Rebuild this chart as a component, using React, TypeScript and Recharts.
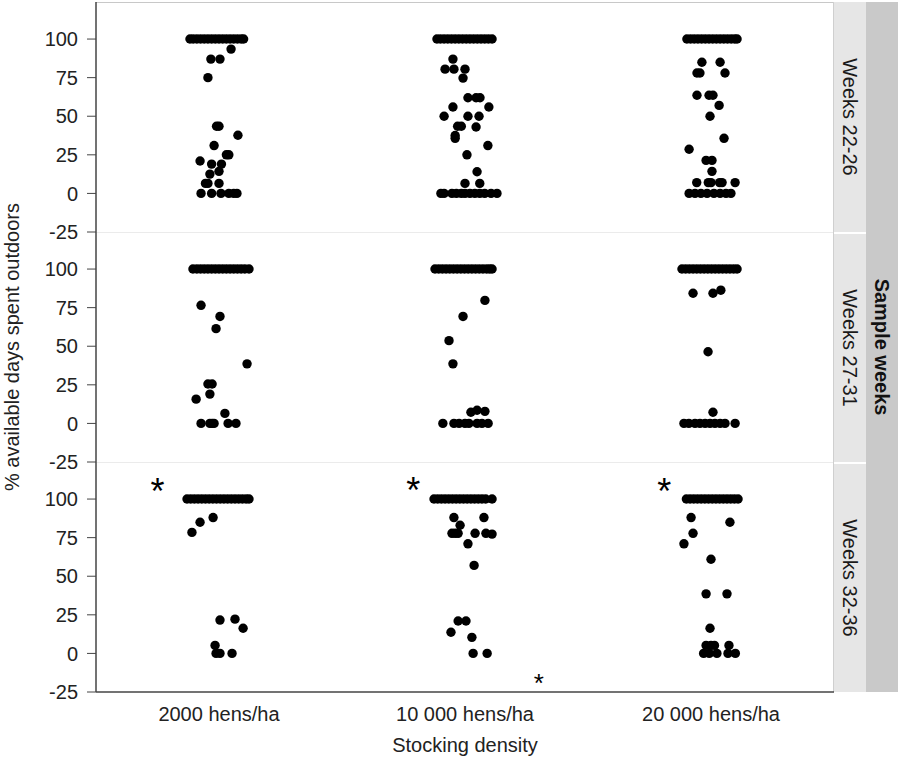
import * as React from "react"
import { Scatter, ScatterChart, XAxis, YAxis } from "recharts"

// [jitter from category centre, % of days outdoors]
const densityLabels = ["2000 hens/ha", "10 000 hens/ha", "20 000 hens/ha"]
const weekLabels = ["Weeks 22-26", "Weeks 27-31", "Weeks 32-36"]
const yTicks = [-25, 0, 25, 50, 75, 100]

const w22_d2000: [number, number][] = [
  [-0.118, 100], [-0.105, 100], [-0.09, 100], [-0.075, 100], [-0.06, 100], [-0.045, 100], [-0.03, 100], [-0.015, 100],
  [0, 100], [0.015, 100], [0.03, 100], [0.045, 100], [0.06, 100], [0.075, 100], [0.09, 100], [0.1, 100],
  [0.049, 93.5], [-0.033, 87], [0.004, 87], [-0.045, 75], [-0.01, 43.5], [0.0, 43.5], [0.077, 37.7], [-0.02, 31],
  [0.03, 25], [0.04, 25], [-0.077, 21], [-0.03, 19], [0.01, 19], [-0.037, 12.5], [0.0, 14.3],
  [-0.055, 6.5], [-0.045, 6.5], [0.0, 6.5],
  [-0.073, 0], [-0.03, 0], [0.008, 0], [0.04, 0], [0.06, 0], [0.073, 0],
]
const w22_d10000: [number, number][] = [
  [-0.114, 100], [-0.1, 100], [-0.085, 100], [-0.07, 100], [-0.055, 100], [-0.04, 100], [-0.025, 100], [-0.01, 100],
  [0.005, 100], [0.02, 100], [0.035, 100], [0.05, 100], [0.065, 100], [0.08, 100], [0.095, 100], [0.11, 100],
  [-0.049, 87], [-0.081, 80.5], [-0.045, 80.5], [0.0, 80.5], [-0.008, 74.7], [0.012, 62], [0.045, 62], [0.061, 62],
  [-0.049, 56], [0.097, 56], [-0.085, 50], [0.012, 50], [0.057, 50], [-0.03, 43.5], [-0.015, 43.5], [0.045, 43],
  [-0.04, 37.5], [-0.04, 35.7], [0.093, 31], [0.008, 25], [0.049, 14], [0.0, 6.5], [0.06, 6.5],
  [-0.098, 0], [-0.085, 0], [-0.053, 0], [-0.035, 0], [-0.015, 0], [0.0, 0], [0.02, 0], [0.04, 0], [0.06, 0],
  [0.08, 0], [0.106, 0], [0.13, 0],
]
const w22_d20000: [number, number][] = [
  [-0.098, 100], [-0.083, 100], [-0.068, 100], [-0.053, 100], [-0.038, 100], [-0.023, 100], [-0.008, 100], [0.007, 100],
  [0.022, 100], [0.037, 100], [0.052, 100], [0.067, 100], [0.082, 100], [0.096, 100], [0.106, 100],
  [-0.037, 85], [0.037, 85], [-0.057, 78], [-0.045, 78], [0.057, 78], [-0.057, 63.6], [-0.008, 63.6], [0.008, 63.6],
  [0.033, 57], [-0.004, 50], [0.053, 35.7], [-0.089, 28.6], [-0.02, 21.4], [0.004, 21.4], [0.004, 14.3],
  [-0.058, 7], [-0.011, 7], [0.0, 7], [0.035, 7], [0.045, 7], [0.098, 7],
  [-0.089, 0], [-0.065, 0], [-0.041, 0], [-0.016, 0], [0.012, 0], [0.037, 0], [0.061, 0], [0.081, 0],
]

const w27_d2000: [number, number][] = [
  [-0.106, 100], [-0.09, 100], [-0.075, 100], [-0.06, 100], [-0.045, 100], [-0.03, 100], [-0.015, 100], [0, 100],
  [0.015, 100], [0.03, 100], [0.045, 100], [0.06, 100], [0.075, 100], [0.09, 100], [0.105, 100], [0.122, 100],
  [-0.073, 76.5], [0.004, 69.3], [-0.012, 61.4], [0.114, 38.6], [-0.045, 25.5], [-0.028, 25.5], [-0.037, 19],
  [-0.093, 15.7], [0.024, 6.5],
  [-0.073, 0], [-0.037, 0], [-0.028, 0], [-0.02, 0], [0.037, 0], [0.069, 0],
]
const w27_d10000: [number, number][] = [
  [-0.122, 100], [-0.107, 100], [-0.092, 100], [-0.077, 100], [-0.062, 100], [-0.047, 100], [-0.032, 100], [-0.017, 100],
  [-0.002, 100], [0.013, 100], [0.028, 100], [0.043, 100], [0.058, 100], [0.073, 100], [0.088, 100], [0.1, 100], [0.11, 100],
  [0.081, 79.7], [-0.008, 69.3], [-0.065, 53.6], [-0.049, 38.6], [0.024, 7.2], [0.049, 8.5], [0.081, 7.8],
  [-0.09, 0], [-0.045, 0], [-0.024, 0], [0.0, 0], [0.016, 0], [0.049, 0], [0.069, 0], [0.094, 0],
]
const w27_d20000: [number, number][] = [
  [-0.118, 100], [-0.103, 100], [-0.088, 100], [-0.073, 100], [-0.058, 100], [-0.043, 100], [-0.028, 100], [-0.013, 100],
  [0.002, 100], [0.017, 100], [0.032, 100], [0.047, 100], [0.062, 100], [0.077, 100], [0.092, 100], [0.106, 100],
  [-0.073, 84.3], [0.008, 84.3], [0.04, 86.3], [-0.012, 46.4], [0.008, 7.2],
  [-0.11, 0], [-0.09, 0], [-0.065, 0], [-0.045, 0], [-0.024, 0], [-0.004, 0], [0.016, 0], [0.037, 0], [0.057, 0], [0.098, 0],
]

const w32_d2000: [number, number][] = [
  [-0.13, 100], [-0.115, 100], [-0.1, 100], [-0.085, 100], [-0.07, 100], [-0.055, 100], [-0.04, 100], [-0.025, 100],
  [-0.01, 100], [0.005, 100], [0.02, 100], [0.035, 100], [0.05, 100], [0.065, 100], [0.08, 100], [0.095, 100],
  [0.11, 100], [0.122, 100],
  [-0.024, 88], [-0.077, 85], [-0.11, 78.4], [0.004, 21.6], [0.065, 22.2], [0.098, 16.3], [-0.016, 5.2],
  [-0.012, 0], [0.004, 0], [0.053, 0],
]
const w32_d10000: [number, number][] = [
  [-0.126, 100], [-0.111, 100], [-0.096, 100], [-0.081, 100], [-0.066, 100], [-0.051, 100], [-0.036, 100], [-0.021, 100],
  [-0.006, 100], [0.009, 100], [0.024, 100], [0.039, 100], [0.054, 100], [0.069, 100], [0.084, 100], [0.11, 100],
  [-0.045, 88], [0.077, 88], [-0.02, 83], [-0.053, 77.8], [-0.04, 77.8], [-0.028, 77.8], [0.041, 77.8], [0.085, 77.8],
  [0.11, 77.3], [0.012, 71], [0.037, 57], [-0.028, 21], [0.004, 21], [-0.057, 13.7], [0.028, 10.4],
  [0.033, 0], [0.09, 0],
]
const w32_d20000: [number, number][] = [
  [-0.1, 100], [-0.085, 100], [-0.07, 100], [-0.055, 100], [-0.04, 100], [-0.025, 100], [-0.01, 100], [0.005, 100],
  [0.02, 100], [0.035, 100], [0.05, 100], [0.065, 100], [0.08, 100], [0.095, 100], [0.11, 100],
  [-0.081, 88], [0.077, 85], [-0.073, 77.8], [-0.11, 71], [0.0, 61], [-0.02, 38.6], [0.065, 38.6], [-0.004, 16.3],
  [-0.02, 5.2], [0.0, 5.2], [0.014, 5.2], [0.073, 5.2],
  [-0.03, 0], [-0.007, 0], [0.024, 0], [0.069, 0], [0.099, 0],
]

// significance marks in the last panel
const bigStarX = [0.75, 1.79, 2.81]
const bigStarY = [110.5, 111, 110.5]
const smallStarX = [2.3]
const smallStarY = [-15]

const panels = [
  [w22_d2000, w22_d10000, w22_d20000],
  [w27_d2000, w27_d10000, w27_d20000],
  [w32_d2000, w32_d10000, w32_d20000],
]

const FONT = "'Liberation Sans', Arial, sans-serif"
const PLOT_LEFT = 96
const PLOT_RIGHT = 834
const PANEL_H = 230
const PANEL_TOPS = [2, 232, 462]

const toPoints = (pairs: [number, number][], cat: number) =>
  pairs.map(([j, v]) => ({ x: cat + j, y: v }))

const dot = (p: any) => <circle cx={p.cx} cy={p.cy} r={4.7} fill="#000" />

const star = (size: number) => (p: any) => (
  <text x={p.cx} y={p.cy} dy={size * 0.58} textAnchor="middle" fontSize={size} fontFamily={FONT} fill="#000">
    *
  </text>
)

function Panel({ index }: { index: number }) {
  const showX = index === 2
  const data = panels[index].flatMap((g, i) => toPoints(g, i + 1))
  const big = bigStarX.map((x, i) => ({ x, y: bigStarY[i] }))
  const small = smallStarX.map((x, i) => ({ x, y: smallStarY[i] }))
  return (
    <div style={{ position: "absolute", left: 0, top: PANEL_TOPS[index] }}>
      <ScatterChart
        width={PLOT_RIGHT}
        height={showX ? PANEL_H + 50 : PANEL_H + 14}
        margin={{ top: 0, right: 0, bottom: showX ? 0 : 14, left: 0 }}
      >
        <XAxis
          type="number"
          dataKey="x"
          domain={[0.5, 3.5]}
          ticks={[1, 2, 3]}
          interval={0}
          hide={!showX}
          height={50}
          tickFormatter={(v: number) => densityLabels[v - 1]}
          axisLine={{ stroke: "#444", strokeWidth: 1.5 }}
          tickLine={false}
          tickSize={0}
          tickMargin={15}
          tick={{ fontSize: 20, fill: "#222", fontFamily: FONT }}
        />
        <YAxis
          type="number"
          dataKey="y"
          domain={[-25, 124]}
          ticks={yTicks}
          interval={0}
          width={PLOT_LEFT}
          allowDataOverflow
          axisLine={{ stroke: "#444", strokeWidth: 1.5 }}
          tickLine={{ stroke: "#444" }}
          tickSize={9}
          tickMargin={9}
          tick={{ fontSize: 20, fill: "#222", fontFamily: FONT }}
        />
        <Scatter data={data} shape={dot} isAnimationActive={false} />
        {showX && <Scatter data={big} shape={star(36)} isAnimationActive={false} />}
        {showX && <Scatter data={small} shape={star(26)} isAnimationActive={false} />}
      </ScatterChart>
    </div>
  )
}

export default function App() {
  const bottom = PANEL_TOPS[2] + PANEL_H
  return (
    <div style={{ position: "absolute", left: 0, top: 0, width: 900, height: 759, background: "#fff", fontFamily: FONT }}>
      {/* light panel frame lines */}
      {PANEL_TOPS.map((t, i) => (
        <div
          key={t}
          style={{
            position: "absolute",
            left: PLOT_LEFT,
            top: t,
            width: PLOT_RIGHT - PLOT_LEFT,
            height: 1,
            background: i === 0 ? "#c8c8c8" : "#ebebeb",
          }}
        />
      ))}
      <div style={{ position: "absolute", left: PLOT_RIGHT - 1, top: PANEL_TOPS[0], width: 1, height: bottom - PANEL_TOPS[0], background: "#cfcfcf" }} />

      {[0, 1, 2].map((i) => (
        <Panel key={i} index={i} />
      ))}

      {/* facet strips */}
      {weekLabels.map((w, i) => (
        <div
          key={w}
          style={{
            position: "absolute",
            left: PLOT_RIGHT,
            top: PANEL_TOPS[i] + (i > 0 ? 2 : 0),
            width: 32,
            height: PANEL_H - (i > 0 ? 2 : 0),
            background: "#e6e6e6",
          }}
        >
          <div
            style={{
              position: "absolute",
              left: 16 - 115,
              top: (PANEL_H - (i > 0 ? 2 : 0)) / 2 - 16,
              width: 230,
              height: 32,
              lineHeight: "32px",
              textAlign: "center",
              fontSize: 20,
              color: "#1a1a1a",
              transform: "rotate(90deg)",
            }}
          >
            {w}
          </div>
        </div>
      ))}
      <div
        style={{
          position: "absolute",
          left: 866,
          top: PANEL_TOPS[0],
          width: 32,
          height: bottom - PANEL_TOPS[0],
          background: "#c9c9c9",
        }}
      >
        <div
          style={{
            position: "absolute",
            left: 16 - 115,
            top: (bottom - PANEL_TOPS[0]) / 2 - 16,
            width: 230,
            height: 32,
            lineHeight: "32px",
            textAlign: "center",
            fontSize: 20,
            fontWeight: "bold",
            color: "#111",
            transform: "rotate(90deg)",
          }}
        >
          Sample weeks
        </div>
      </div>

      {/* axis titles */}
      <div
        style={{
          position: "absolute",
          left: 12 - 250,
          top: 347 - 12,
          width: 500,
          height: 24,
          lineHeight: "24px",
          textAlign: "center",
          fontSize: 20,
          color: "#222",
          transform: "rotate(-90deg)",
        }}
      >
        % available days spent outdoors
      </div>
      <div
        style={{
          position: "absolute",
          left: PLOT_LEFT,
          top: 733,
          width: PLOT_RIGHT - PLOT_LEFT,
          height: 24,
          lineHeight: "24px",
          textAlign: "center",
          fontSize: 20,
          color: "#222",
        }}
      >
        Stocking density
      </div>
    </div>
  )
}
